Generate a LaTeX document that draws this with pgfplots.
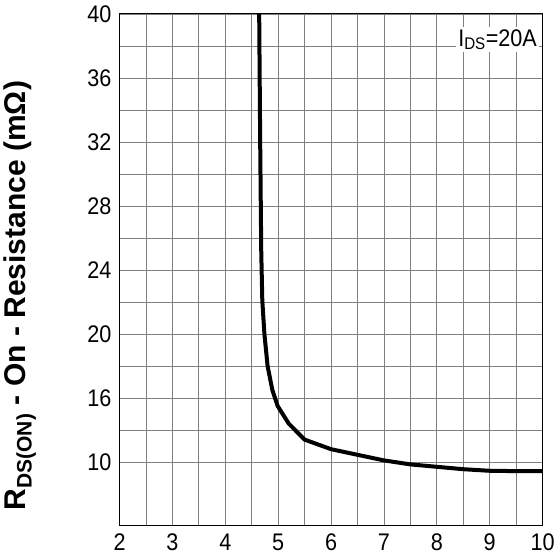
\documentclass[border=0pt]{standalone}
\usepackage{pgfplots}
\pgfplotsset{compat=1.18}
\usepackage{fontspec}
\setmainfont{Liberation Sans}
% slightly narrowed face for horizontal labels
\newfontfamily\narrowsans[FakeStretch=0.9]{Liberation Sans}

\begin{document}
\begin{tikzpicture}
\begin{axis}[
  scale only axis,
  width=423pt, height=512pt,
  xmin=2, xmax=10, ymin=8, ymax=40,
  xtick={2,3,...,10},
  ytick={12,16,20,24,28,32,36,40},
  yticklabels={10,16,20,24,28,32,36,40},
  minor x tick num=1,
  minor y tick num=1,
  grid=both,
  major grid style={draw=black!50, line width=0.8pt},
  minor grid style={draw=black!50, line width=0.8pt},
  axis line style={black, line width=1pt},
  major tick length=0pt,
  minor tick length=0pt,
  /pgf/number format/assume math mode=true,
  tick label style={font=\narrowsans\fontsize{24}{27}\selectfont},
  yticklabel style={inner sep=2pt, xshift=-6pt},
  xticklabel style={inner sep=2pt, yshift=-6pt},
  ylabel={\textbf{R\textsubscript{DS(ON)} - On - Resistance (mΩ)}},
  ylabel style={font=\fontsize{30}{34}\selectfont,
                at={(axis description cs:-0.236,0.45)}, anchor=center},
  clip=true,
]
\addplot[black, line width=4pt, line join=round] coordinates {
  (4.64,40.5) (4.66,32) (4.68,25.2) (4.70,22.1) (4.74,20.0)
  (4.80,18.0) (4.89,16.5) (4.99,15.5) (5.2,14.4) (5.5,13.4)
  (6.0,12.8) (6.5,12.45) (7.0,12.1) (7.5,11.85) (8.0,11.7)
  (8.5,11.55) (9.0,11.45) (9.5,11.43) (10.0,11.43)
};
\node[fill=white, inner sep=2pt, anchor=center,
      font=\narrowsans\fontsize{24}{27}\selectfont]
  at (axis cs:9.15,38.4) {I\textsubscript{DS}=20A};
\end{axis}
% white margins above and below the plot area
\path ([yshift=14pt]current axis.north) ([yshift=-34pt]current axis.south);
\end{tikzpicture}
\end{document}
